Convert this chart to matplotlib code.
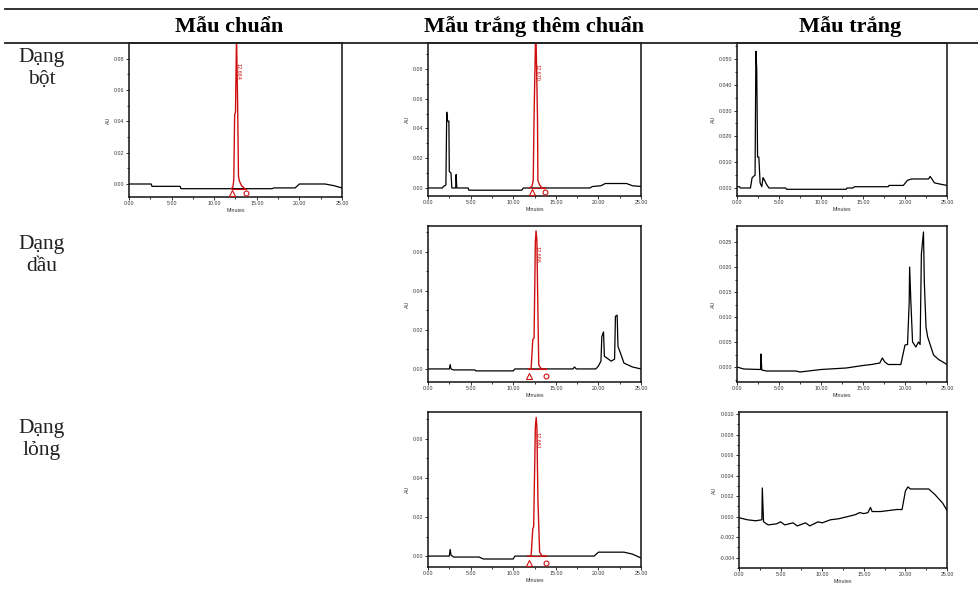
import matplotlib
matplotlib.use("Agg")
import matplotlib.pyplot as plt
from matplotlib.ticker import MultipleLocator, AutoMinorLocator, FormatStrFormatter

# header / row labels
col_titles = ["Mẫu chuẩn", "Mẫu trắng thêm chuẩn", "Mẫu trắng"]
row_titles = ["Dạng\nbột", "Dạng\ndầu", "Dạng\nlỏng"]

# --- chromatogram traces (minutes, AU) ---
# powder, standard
std_powder_t = [0, 2.6, 2.7, 6.0, 6.1, 12.0, 13.6, 16.8, 17.0, 19.5, 20.0, 23.0, 24.0, 25.0]
std_powder_y = [0.0, 0.0, -0.0015, -0.0015, -0.003, -0.003, -0.003, -0.003, -0.0025, -0.0025,
                0.0, 0.0, -0.001, -0.0025]
std_powder_pk_t = [12.0, 12.2, 12.3, 12.4, 12.5, 12.62, 12.75, 12.85, 12.95, 13.2, 13.6]
std_powder_pk_y = [-0.003, -0.002, 0.003, 0.044, 0.046, 0.095, 0.051, 0.005, 0.002, -0.001, -0.003]
std_powder_marks = [12.1, 13.75]

# powder, spiked blank
spk_powder_t = [0, 1.7, 1.8, 2.1, 2.2, 2.3, 2.45, 2.5, 2.7, 2.8, 3.25, 3.3, 3.38, 4.7, 4.8,
                11.0, 11.2, 19.0, 19.3, 20.3, 20.8, 23.3, 24.0, 25.0]
spk_powder_y = [0.0, 0.0, 0.001, 0.002, 0.051, 0.045, 0.045, 0.011, 0.010, 0.0, 0.0, 0.009, 0.0,
                0.0, -0.0015, -0.0015, 0.0, 0.0, 0.001, 0.0015, 0.003, 0.003, 0.0015, 0.001]
spk_powder_pk_t = [11.9, 12.2, 12.35, 12.45, 12.65, 12.85, 12.9, 13.1, 13.4, 13.7]
spk_powder_pk_y = [0.0, 0.001, 0.005, 0.048, 0.11, 0.048, 0.005, 0.002, 0.0, 0.0]
spk_powder_marks = [12.2, 13.7]

# powder, blank
blk_powder_t = [0, 0.3, 0.4, 1.6, 1.8, 2.15, 2.25, 2.35, 2.45, 2.6, 2.75, 2.95, 3.1, 3.2, 3.5, 3.8,
                5.8, 5.9, 13.0, 13.1, 13.8, 14.0, 18.0, 18.1, 19.8, 20.3, 20.8, 22.8, 23.0, 23.5,
                24.2, 25.0]
blk_powder_y = [0.0005, 0.0005, 0.0, 0.0, 0.004, 0.005, 0.053, 0.046, 0.012, 0.012, 0.002, 0.0005,
                0.004, 0.0035, 0.0015, 0.0, 0.0, -0.0005, -0.0005, 0.0, 0.0, 0.0005, 0.0005, 0.001,
                0.001, 0.003, 0.0035, 0.0035, 0.0045, 0.002, 0.0015, 0.001]

# oil, spiked blank
spk_oil_t = [0, 2.5, 2.6, 2.7, 3.0, 5.5, 5.6, 10.0, 10.2, 17.0, 17.2, 17.4, 19.7, 20.0, 20.3, 20.4,
             20.6, 20.7, 21.5, 21.9, 22.0, 22.2, 22.3, 22.6, 23.0, 24.0, 25.0]
spk_oil_y = [0.0, 0.0, 0.0022, 0.0, -0.0005, -0.0005, -0.001, -0.001, 0.0, 0.0, 0.001, 0.0, 0.0,
             0.0015, 0.004, 0.0165, 0.019, 0.0065, 0.004, 0.005, 0.027, 0.0276, 0.0115, 0.008,
             0.003, 0.001, 0.0]
spk_oil_pk_t = [11.8, 12.1, 12.3, 12.45, 12.6, 12.68, 12.78, 12.9, 13.0, 13.3, 13.85]
spk_oil_pk_y = [0.0, 0.0, 0.015, 0.016, 0.065, 0.0708, 0.066, 0.029, 0.002, 0.0, 0.0]
spk_oil_marks = [11.8, 13.85]

# oil, blank
blk_oil_t = [0, 0.8, 2.8, 2.85, 2.95, 3.5, 7.0, 7.5, 10.0, 13.0, 15.0, 16.0, 17.0, 17.3, 17.6, 18.0,
             19.5, 20.0, 20.3, 20.5, 20.55, 20.7, 20.9, 21.3, 21.6, 21.8, 21.95, 22.2, 22.3, 22.5,
             22.7, 23.4, 24.0, 25.0]
blk_oil_y = [0.0, -0.0004, -0.0005, 0.0026, -0.0006, -0.0008, -0.0008, -0.001, -0.0005, -0.0002,
             0.0003, 0.0005, 0.0008, 0.0018, 0.001, 0.0005, 0.0005, 0.0044, 0.0045, 0.013, 0.020,
             0.013, 0.005, 0.004, 0.005, 0.0045, 0.0226, 0.027, 0.017, 0.008, 0.006, 0.0024,
             0.0015, 0.0005]

# liquid, spiked blank
spk_liq_t = [0, 2.5, 2.6, 2.7, 3.0, 6.0, 6.5, 10.0, 10.2, 19.5, 20.0, 23.0, 24.0, 25.0]
spk_liq_y = [0.0, 0.0, 0.0034, 0.0005, -0.0005, -0.0005, -0.0015, -0.0015, 0.0, 0.0, 0.002, 0.002,
             0.001, -0.001]
spk_liq_pk_t = [11.7, 12.1, 12.3, 12.4, 12.6, 12.7, 12.78, 12.9, 13.1, 13.4, 13.9]
spk_liq_pk_y = [0.0, 0.0, 0.014, 0.015, 0.066, 0.071, 0.066, 0.029, 0.002, 0.0, 0.0]
spk_liq_marks = [11.8, 13.85]

# liquid, blank
blk_liq_t = [0, 1.0, 2.0, 2.75, 2.8, 2.95, 3.5, 4.5, 5.0, 5.5, 6.5, 7.0, 8.0, 8.5, 9.5, 10.0, 11.0,
             12.0, 13.0, 14.0, 14.5, 15.0, 15.5, 15.8, 16.0, 17.0, 18.0, 19.0, 19.6, 20.0, 20.3,
             20.6, 22.8, 23.5, 24.5, 25.0]
blk_liq_y = [-0.0001, -0.0003, -0.0004, -0.0003, 0.0028, -0.0005, -0.0008, -0.0007, -0.0005,
             -0.0008, -0.0006, -0.0009, -0.0006, -0.0009, -0.0005, -0.0006, -0.0003, -0.0002, 0.0,
             0.0002, 0.0004, 0.0003, 0.0004, 0.0009, 0.0005, 0.0005, 0.0006, 0.0007, 0.0007,
             0.0025, 0.0029, 0.0027, 0.0027, 0.0022, 0.0013, 0.0006]

# panel boxes in pixels: left, right, top, bottom
W, H = 979, 593

panels = [
    dict(box=(129, 342, 43, 197), t=std_powder_t, y=std_powder_y, pk_t=std_powder_pk_t,
         pk_y=std_powder_pk_y, marks=std_powder_marks, mark_y=-0.0055, label="12.664",
         ylim=(-0.0083, 0.090), ystep=0.02, fmt="%.2f"),
    dict(box=(428, 641, 43, 196), t=spk_powder_t, y=spk_powder_y, pk_t=spk_powder_pk_t,
         pk_y=spk_powder_pk_y, marks=spk_powder_marks, mark_y=-0.003, label="12.670",
         ylim=(-0.0054, 0.0975), ystep=0.02, fmt="%.2f"),
    dict(box=(737, 947, 43, 196), t=blk_powder_t, y=blk_powder_y, pk_t=None,
         ylim=(-0.0031, 0.0562), ystep=0.01, fmt="%.3f"),
    dict(box=(428, 641, 226, 382), t=spk_oil_t, y=spk_oil_y, pk_t=spk_oil_pk_t,
         pk_y=spk_oil_pk_y, marks=spk_oil_marks, mark_y=-0.0034, label="12.686",
         ylim=(-0.0067, 0.0733), ystep=0.02, fmt="%.2f"),
    dict(box=(737, 947, 226, 382), t=blk_oil_t, y=blk_oil_y, pk_t=None,
         ylim=(-0.003, 0.0282), ystep=0.005, fmt="%.3f"),
    dict(box=(428, 641, 412, 567), t=spk_liq_t, y=spk_liq_y, pk_t=spk_liq_pk_t,
         pk_y=spk_liq_pk_y, marks=spk_liq_marks, mark_y=-0.0035, label="12.681",
         ylim=(-0.0056, 0.0738), ystep=0.02, fmt="%.2f"),
    dict(box=(739, 947, 412, 568), t=blk_liq_t, y=blk_liq_y, pk_t=None,
         ylim=(-0.005, 0.0102), ystep=0.002, fmt="%.3f"),
]

serif = ["Liberation Serif", "DejaVu Serif"]
small = ["Liberation Sans", "DejaVu Sans"]

fig = plt.figure(figsize=(W / 100, H / 100), dpi=100)

# table rules
fig.add_artist(plt.Line2D([5 / W, 1], [1 - 9 / H, 1 - 9 / H], color="#222", lw=1.3))
fig.add_artist(plt.Line2D([5 / W, 1], [1 - 43 / H, 1 - 43 / H], color="#222", lw=1.3))

for x, txt in zip([229, 534, 850], col_titles):
    fig.text(x / W, 1 - 27 / H, txt, ha="center", va="center", family=serif,
             fontweight="bold", fontsize=16)

for y, txt in zip([48, 235, 419], row_titles):
    fig.text(42 / W, 1 - y / H, txt, ha="center", va="top", family=serif,
             fontsize=15.5, linespacing=1.2, color="#222")

for p in panels:
    l, r, t, b = p["box"]
    ax = fig.add_axes([l / W, 1 - b / H, (r - l) / W, (b - t) / H])
    ax.plot(p["t"], p["y"], color="black", lw=0.9, zorder=2)
    if p["pk_t"] is not None:
        ax.plot(p["pk_t"], p["pk_y"], color="#d01010", lw=1.0, zorder=3)
        m0, m1 = p["marks"]
        ax.plot([m0, m1], [p["pk_y"][0], p["pk_y"][-1]], color="#d01010", lw=0.8, zorder=3)
        ax.plot([m0], [p["mark_y"]], marker="^", ms=4, mfc="none", mec="#d01010", mew=0.8,
                clip_on=False, zorder=4)
        ax.plot([m1], [p["mark_y"]], marker="o", ms=3.5, mfc="none", mec="#d01010", mew=0.8,
                clip_on=False, zorder=4)
        top = p["ylim"][1]
        ax.text(12.75, top * 0.80, p["label"], rotation=270, color="#d01010", fontsize=4,
                ha="center", va="center", family=small)
    ax.set_xlim(0, 25)
    ax.set_ylim(*p["ylim"])
    ax.xaxis.set_major_locator(MultipleLocator(5))
    ax.xaxis.set_minor_locator(AutoMinorLocator(2))
    ax.yaxis.set_major_locator(MultipleLocator(p["ystep"]))
    ax.yaxis.set_minor_locator(AutoMinorLocator(2))
    ax.xaxis.set_major_formatter(FormatStrFormatter("%.2f"))
    ax.yaxis.set_major_formatter(FormatStrFormatter(p["fmt"]))
    ax.tick_params(which="both", direction="out", width=0.7, colors="#333",
                   labelsize=3.8, pad=1)
    ax.tick_params(which="major", length=2.2)
    ax.tick_params(which="minor", length=1.2)
    for lab in ax.get_xticklabels() + ax.get_yticklabels():
        lab.set_family(small)
    ax.set_xlabel("Minutes", fontsize=3.8, labelpad=1, family=small, color="#333")
    ax.set_ylabel("AU", fontsize=3.8, labelpad=2, family=small, color="#333")
    for s in ax.spines.values():
        s.set_linewidth(1.1)
        s.set_color("#111")

fig.savefig("out.png", dpi=100)
